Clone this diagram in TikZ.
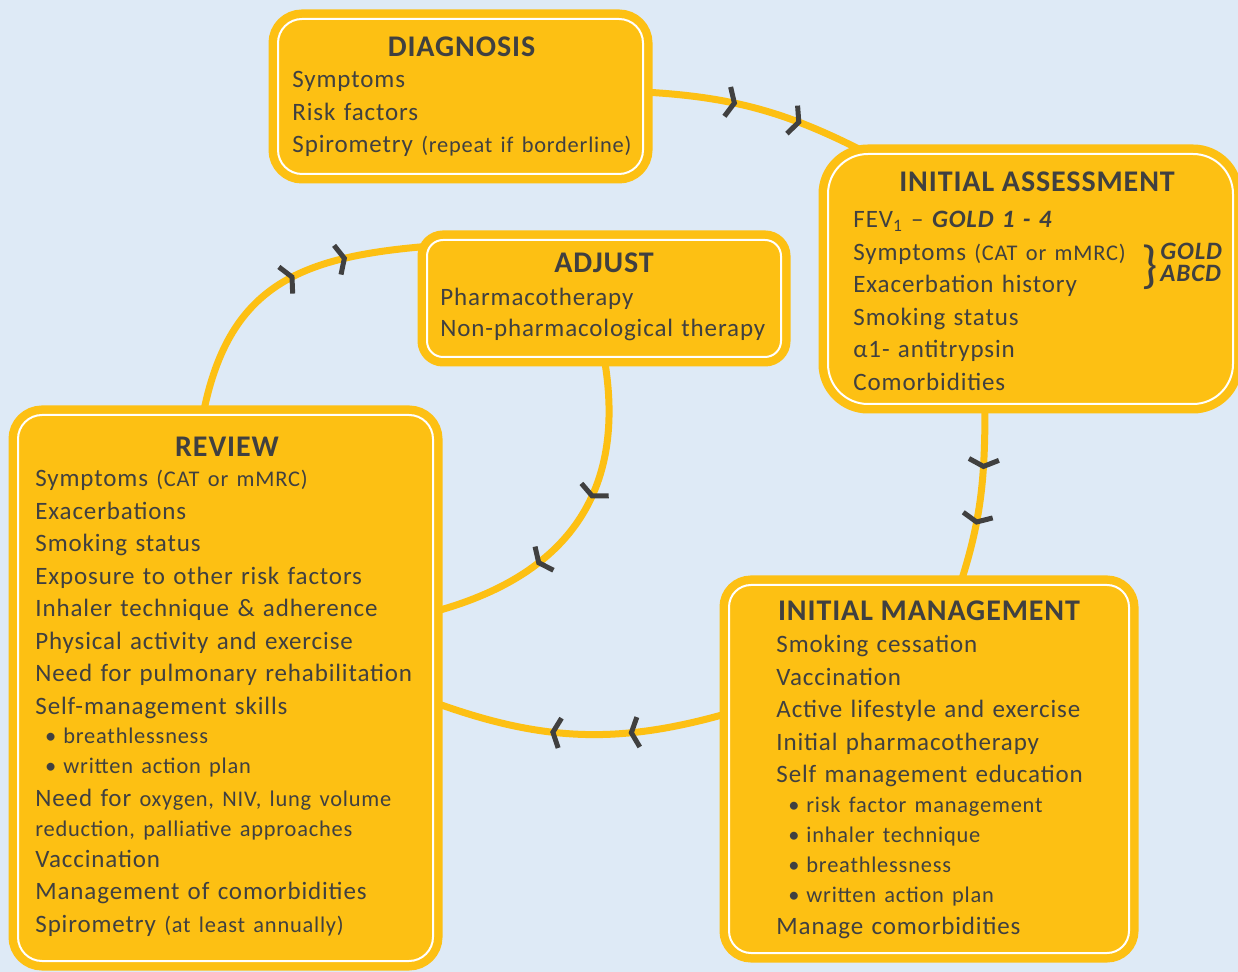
\documentclass[tikz,border=0pt]{standalone}
\usepackage{fontspec}
\setmainfont{Carlito}[LetterSpace=3.5]
\usepackage{xcolor}
\usetikzlibrary{decorations.markings}

\definecolor{boxyellow}{HTML}{FDC013}
\definecolor{pageblue}{HTML}{DEEAF6}
\definecolor{inkgray}{HTML}{404040}

\pgfdeclarelayer{background}
\pgfsetlayers{background,main}

% chevron drawn on the cycle arcs
\newcommand\chevmark{\draw[inkgray, line width=2.5pt] (-3.5pt,7.5pt) -- (0,0) -- (-3.5pt,-7.5pt);}
\newcommand\subtxt{\fontsize{11.2}{16.25}\selectfont}
\newcommand\bul[1]{\makebox[#1][r]{•\hspace{3.5pt}}}

\tikzset{
  stage/.style={draw=white, line width=1pt, fill=boxyellow, rounded corners=#1,
    inner sep=0pt, outer sep=0pt, preaction={draw=boxyellow, line width=9.5pt}},
  title/.style={anchor=base, inner sep=0pt, text=inkgray,
    font=\fontsize{15}{16}\selectfont\bfseries\addfontfeatures{LetterSpace=3}},
  items/.style={anchor=base west, align=left, text width=#1, inner sep=0pt,
    text=inkgray, font=\fontsize{12.5}{16.25}\selectfont},
  link/.style 2 args={draw=boxyellow, line width=3.5pt, postaction={decorate},
    decoration={markings, mark=at position #1 with {\chevmark},
      mark=at position #2 with {\chevmark}}}
}

\begin{document}
\begin{tikzpicture}[x=0.5pt, y=0.5pt]
\useasboundingbox (0,0) rectangle (1238,-972);

% the five stages
\node[stage=12pt, minimum width=182.5pt, minimum height=77.5pt] (diag) at (460.5,-96.5) {};
\node[stage=20pt, minimum width=202.5pt, minimum height=125pt] (assess) at (1030.5,-279) {};
\node[stage=8pt, minimum width=177pt, minimum height=58.5pt] (adjust) at (604,-298.5) {};
\node[stage=12pt, minimum width=207.5pt, minimum height=273pt] (review) at (225.5,-688) {};
\node[stage=11pt, minimum width=200pt, minimum height=184pt] (manage) at (929,-769) {};

% headings
\node[title] (diagtitle) at ([xshift=0.5pt, yshift=-19pt]diag.north) {DIAGNOSIS};
\node[title] (assesstitle) at ([xshift=3.25pt, yshift=-19pt]assess.north) {INITIAL ASSESSMENT};
\node[title] (adjusttitle) at ([yshift=-16.5pt]adjust.north) {ADJUST};
\node[title] (reviewtitle) at ([xshift=0.75pt, yshift=-21pt]review.north) {REVIEW};
\node[title] (managetitle) at ([yshift=-18pt]manage.north) {INITIAL MANAGEMENT};

% contents
\node[items=180pt] (diaglist) at ([xshift=7pt, yshift=-34.5pt]diag.north west)
  {Symptoms\\ Risk factors\\ Spirometry {\subtxt (repeat if borderline)}};
\node[items=147pt] (assesslist) at ([xshift=12.5pt, yshift=-37pt]assess.north west)
  {FEV\textsubscript{1} – \textbf{\textit{GOLD 1 - 4}}\\
   Symptoms {\subtxt (CAT or mMRC)}\\
   Exacerbation history\\
   Smoking status\\
   α1- antitrypsin\\
   Comorbidities};
\node[inner sep=0pt, text=inkgray] (brace) at ([xshift=161pt, yshift=-56.5pt]assess.north west)
  {\fontsize{26}{26}\selectfont\}};
\node[items=40pt, font=\fontsize{12.5}{11}\selectfont\bfseries\itshape] (goldtag)
  at ([xshift=166pt, yshift=-53pt]assess.north west) {GOLD\\ABCD};
\node[items=170pt] (adjustlist) at ([xshift=6.5pt, yshift=-33pt]adjust.north west)
  {Pharmacotherapy\\[-0.75pt] Non-pharmacological therapy};
\node[items=200pt] (reviewlist) at ([xshift=8.5pt, yshift=-36pt]review.north west)
  {Symptoms {\subtxt (CAT or mMRC)}\\
   Exacerbations\\
   Smoking status\\
   Exposure to other risk factors\\
   Inhaler technique \& adherence\\
   Physical activity and exercise\\
   Need for pulmonary rehabilitation\\
   Self-management skills\\[-1.6pt]
   {\subtxt\bul{14pt}breathlessness}\\[-1.2pt]
   {\subtxt\bul{14pt}written action plan}\\
   Need for {\subtxt oxygen, NIV, lung volume}\\[-1.2pt]
   {\subtxt reduction, palliative approaches}\\[-0.8pt]
   Vaccination\\
   Management of comorbidities\\
   Spirometry {\subtxt (at least annually)}};
\node[items=190pt] (managelist) at ([xshift=23.5pt, yshift=-34pt]manage.north west)
  {Smoking cessation\\
   Vaccination\\
   Active lifestyle and exercise\\
   Initial pharmacotherapy\\
   Self management education\\[-1.7pt]
   {\subtxt\bul{15pt}risk factor management}\\[-1.2pt]
   {\subtxt\bul{15pt}inhaler technique}\\[-1.2pt]
   {\subtxt\bul{15pt}breathlessness}\\[-1.2pt]
   {\subtxt\bul{15pt}written action plan}\\[-0.25pt]
   Manage comorbidities};

% cycle arcs behind the boxes
\begin{pgfonlayer}{background}
  \fill[pageblue] (0,0) rectangle (1238,-972);
  \draw[link={0.37}{0.64}] ([yshift=2.25pt]diag.east) to[out=-3, in=152]
    ([xshift=26pt, yshift=-3pt]assess.north west);
  \draw[link={0.34}{0.645}] ([xshift=-22.75pt]assess.south) to[out=-90, in=72]
    ([xshift=15.5pt]manage.north);
  \draw[link={0.33}{0.59}] ([yshift=28pt]manage.west) to[out=196, in=-20]
    ([yshift=-7pt]review.east);
  \draw[link={0.52}{0.69}] ([xshift=-11.25pt]review.north) to[out=79, in=184, looseness=1.2]
    ([xshift=9pt, yshift=-2.5pt]adjust.north west);
  \draw[link={0.41}{0.66}] (adjust.south) to[out=-80, in=15, looseness=1.15]
    ([yshift=38pt]review.east);
\end{pgfonlayer}
\end{tikzpicture}
\end{document}
